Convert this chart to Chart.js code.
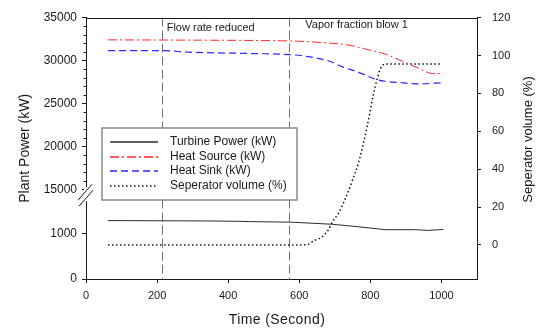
<!DOCTYPE html>
<html>
<head>
<meta charset="utf-8">
<script src="https://cdn.jsdelivr.net/npm/chart.js@4/dist/chart.umd.min.js"></script>
<style>
  html, body { margin: 0; padding: 0; background: #fff; }
  canvas { display: block; }
</style>
</head>
<body>
<canvas id="plant-chart" width="543" height="329"></canvas>
<script>
  // values
  const turbineTime = [62, 340, 425, 460, 577, 692, 767, 843, 927, 963, 1005];
  const turbinePower = [1280, 1272, 1265, 1258, 1245, 1200, 1144, 1080, 1080, 1065, 1086];

  const sourceTime = [62, 300, 500, 600, 680, 740, 790, 835, 870, 910, 940, 962, 975, 1005];
  const sourcePower = [32410, 32380, 32330, 32250, 32050, 31800, 31300, 30850, 30300, 29570, 29050, 28600, 28500, 28480];

  const sinkTime = [62, 220, 290, 470, 570, 620, 683, 720, 767, 814, 840, 880, 935, 1005];
  const sinkPower = [31160, 31150, 30980, 30820, 30700, 30500, 29950, 29300, 28630, 27850, 27600, 27450, 27300, 27420];

  const volumeTime = [62, 600, 625, 641, 665, 683, 693, 711, 730, 748, 767, 781, 791, 800, 809, 819, 828, 842, 996];
  const volumePct = [0, 0, 0.3, 2.2, 4.3, 8.3, 12, 17, 24.6, 33.3, 43.6, 54, 62.6, 71.2, 79.8, 87.6, 92.8, 95.5, 95.5];

  const timeTicks = [0, 200, 400, 600, 800, 1000];
  const highTicks = [15000, 20000, 25000, 30000, 35000];
  const lowTicks = [0, 1000];
  const volumeTicks = [0, 20, 40, 60, 80, 100, 120];

  const eventTimes = [215, 572];
  const eventLabels = ['Flow rate reduced', 'Vapor fraction blow 1'];
  const eventLabelX = [227, 617];
  const eventLabelY = [114.5, 116];

  const FONT = "'Liberation Sans', Arial, sans-serif";
  const INK = '#1a1a1a';

  function pairs(xs, ys) {
    return xs.map((x, i) => ({ x, y: ys[i] }));
  }

  function fixedTicks(values) {
    return (scale) => { scale.ticks = values.map((value) => ({ value })); };
  }

  const overlay = {
    id: 'overlay',
    beforeDatasetsDraw(chart) {
      const { ctx, chartArea, scales } = chart;
      ctx.save();
      // event markers
      ctx.strokeStyle = '#707070';
      ctx.lineWidth = 1;
      ctx.setLineDash([9, 4]);
      eventTimes.forEach((t) => {
        const x = Math.round(scales.x.getPixelForValue(t)) + 0.5;
        ctx.beginPath();
        ctx.moveTo(x, chartArea.top);
        ctx.lineTo(x, chartArea.bottom);
        ctx.stroke();
      });
      ctx.setLineDash([]);
      ctx.fillStyle = INK;
      ctx.font = '11px ' + FONT;
      ctx.textBaseline = 'middle';
      ctx.textAlign = 'left';
      eventLabels.forEach((txt, i) => {
        ctx.fillText(txt, scales.x.getPixelForValue(eventLabelX[i]), scales.yVol.getPixelForValue(eventLabelY[i]));
      });
      ctx.restore();
    },
    afterDraw(chart) {
      const { ctx, chartArea, scales } = chart;
      const hi = scales.yHigh;
      const axisX = chartArea.left;
      ctx.save();

      // frame top
      ctx.strokeStyle = INK;
      ctx.lineWidth = 1;
      ctx.beginPath();
      ctx.moveTo(chartArea.left, Math.round(chartArea.top) + 0.5);
      ctx.lineTo(chartArea.right, Math.round(chartArea.top) + 0.5);
      ctx.stroke();

      // minor ticks on the upper segment
      for (let v = 16000; v < hi.max; v += 1000) {
        if (v % 5000 === 0) continue;
        const y = Math.round(hi.getPixelForValue(v)) + 0.5;
        ctx.beginPath();
        ctx.moveTo(axisX - 2.5, y);
        ctx.lineTo(axisX, y);
        ctx.stroke();
      }

      // axis break
      const by = hi.bottom - 4;
      ctx.fillStyle = '#fff';
      ctx.fillRect(axisX - 2, by - 7, 4, 14);
      ctx.strokeStyle = INK;
      ctx.beginPath();
      ctx.moveTo(axisX - 8, by + 6);
      ctx.lineTo(axisX + 6, by - 10);
      ctx.moveTo(axisX - 7, by + 12);
      ctx.lineTo(axisX + 7, by - 4);
      ctx.stroke();

      // legend box
      const lx = chartArea.left + 16, ly = 128, lw = 195, lh = 72;
      ctx.fillStyle = '#fff';
      ctx.fillRect(lx, ly, lw, lh);
      ctx.strokeStyle = '#8a8a8a';
      ctx.lineWidth = 1.5;
      ctx.strokeRect(lx, ly, lw, lh);
      ctx.font = '12px ' + FONT;
      ctx.textBaseline = 'middle';
      ctx.textAlign = 'left';
      chart.data.datasets.forEach((ds, i) => {
        const opts = chart.getDatasetMeta(i).dataset.options;
        const y = Math.round(ly + 14 + i * 14.5);
        ctx.save();
        ctx.strokeStyle = opts.borderColor;
        ctx.lineWidth = Math.max(opts.borderWidth, 1.4);
        ctx.setLineDash(opts.borderDash || []);
        ctx.beginPath();
        ctx.moveTo(lx + 8, y);
        ctx.lineTo(lx + 56, y);
        ctx.stroke();
        ctx.restore();
        ctx.fillStyle = INK;
        ctx.fillText(ds.label, lx + 68, y);
      });

      // axis titles
      ctx.fillStyle = INK;
      ctx.font = '14px ' + FONT;
      ctx.textAlign = 'center';
      ctx.textBaseline = 'middle';
      ctx.save();
      ctx.translate(25, (chartArea.top + chartArea.bottom) / 2);
      ctx.rotate(-Math.PI / 2);
      ctx.fillText('Plant Power (kW)', 0, 0);
      ctx.restore();
      ctx.save();
      ctx.font = '13px ' + FONT;
      ctx.translate(528, 139.5);
      ctx.rotate(-Math.PI / 2);
      ctx.fillText('Seperator volume (%)', 0, 0);
      ctx.restore();
      ctx.letterSpacing = '0.4px';
      ctx.fillText('Time (Second)', 277, 320);
      ctx.restore();
    }
  };

  const tickFont = { family: FONT, size: 11 };
  const axisGrid = { drawOnChartArea: false, tickLength: 4, color: INK };
  const axisBorder = { color: INK, width: 1 };
  const plain = (v) => String(v);

  new Chart(document.getElementById('plant-chart'), {
    type: 'line',
    data: {
      datasets: [
        { label: 'Turbine Power (kW)', data: pairs(turbineTime, turbinePower), yAxisID: 'yLow',
          borderColor: '#2b2b2b', borderWidth: 1, pointRadius: 0, tension: 0 },
        { label: 'Heat Source (kW)', data: pairs(sourceTime, sourcePower), yAxisID: 'yHigh',
          borderColor: '#ff2a2a', borderWidth: 1, borderDash: [9, 3, 2, 3], pointRadius: 0, cubicInterpolationMode: 'monotone' },
        { label: 'Heat Sink (kW)', data: pairs(sinkTime, sinkPower), yAxisID: 'yHigh',
          borderColor: '#2a2aff', borderWidth: 1.2, borderDash: [7, 4], pointRadius: 0, cubicInterpolationMode: 'monotone' },
        { label: 'Seperator volume (%)', data: pairs(volumeTime, volumePct), yAxisID: 'yVol',
          borderColor: '#111', borderWidth: 1.5, borderDash: [1.5, 2.5], pointRadius: 0, cubicInterpolationMode: 'monotone' }
      ]
    },
    options: {
      responsive: false,
      animation: false,
      devicePixelRatio: 1,
      layout: { padding: { top: 12, left: 0, right: 0, bottom: 0 } },
      plugins: { legend: { display: false }, tooltip: { enabled: false } },
      scales: {
        x: {
          type: 'linear', position: 'bottom', min: 0, max: 1100,
          ticks: { font: tickFont, color: INK, padding: 6, maxRotation: 0, autoSkip: false, callback: plain },
          afterBuildTicks: fixedTicks(timeTicks),
          afterFit: (s) => { s.height = 50; },
          grid: axisGrid, border: axisBorder
        },
        yLow: {
          type: 'linear', position: 'left', stack: 'power', stackWeight: 82.5, min: 0, max: 1770,
          ticks: { font: { family: FONT, size: 12 }, color: INK, padding: 5, autoSkip: false, callback: plain },
          afterBuildTicks: fixedTicks(lowTicks),
          afterFit: (s) => { s.width = 86; },
          grid: axisGrid, border: axisBorder
        },
        yHigh: {
          type: 'linear', position: 'left', stack: 'power', stackWeight: 184.5, min: 14000, max: 35000,
          ticks: { font: { family: FONT, size: 12 }, color: INK, padding: 5, autoSkip: false, callback: plain },
          afterBuildTicks: fixedTicks(highTicks),
          afterFit: (s) => { s.width = 86; },
          grid: axisGrid, border: axisBorder
        },
        yVol: {
          type: 'linear', position: 'right', min: -18, max: 120,
          ticks: { font: tickFont, color: INK, padding: 11, autoSkip: false, callback: plain },
          afterBuildTicks: fixedTicks(volumeTicks),
          afterFit: (s) => { s.width = 66; },
          grid: axisGrid, border: axisBorder
        }
      }
    },
    plugins: [overlay]
  });
</script>
</body>
</html>
